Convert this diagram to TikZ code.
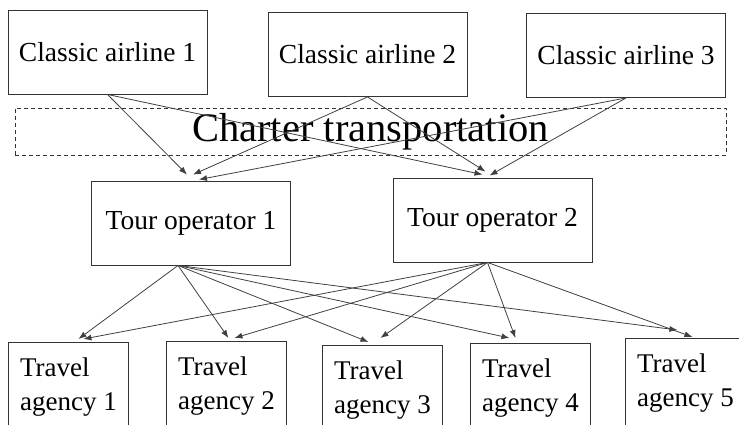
\documentclass[tikz,border=0pt]{standalone}
\usepackage{fontspec}
\setmainfont{Liberation Serif}
\usetikzlibrary{arrows.meta}

\begin{document}
\begin{tikzpicture}[x=1pt,y=-1pt,>={Latex[length=8pt,width=6pt]},%
		   firm/.style={draw=black!80,line width=0.9pt,minimum width=199pt,minimum height=84pt,inner sep=0pt,font=\fontsize{27.5}{34}\selectfont},
		   agency/.style={draw=black!80,line width=0.9pt,anchor=north west,align=left,minimum width=120pt,inner xsep=10pt,inner ysep=15pt,font=\fontsize{27}{34}\selectfont},
		   charter/.style={draw=black!80,line width=0.8pt,dash pattern=on 4pt off 3pt,minimum width=711pt,minimum height=47pt,inner sep=0pt,font=\fontsize{40.5}{44}\selectfont},
		   link/.style={->,black!75,line width=0.8pt}]

	\useasboundingbox (0,0) rectangle (739,424);

	% airlines, charter band, tour operators
	\foreach \i/\x/\y in {1/107.5/52,2/367.5/54.5,3/626/55.5}
	    \node[firm] (a\i) at (\x,\y) {Classic airline \i};
	\node[charter] (ct) at (370.5,131.5) {Charter transportation};
	\node[firm] (t1) at (191,223) {Tour operator 1};
	\node[firm] (t2) at (492.5,220) {Tour operator 2};

	% travel agencies (run off the bottom edge)
	\foreach \i/\x/\y in {1/8/342,2/166/341,3/322/345,4/470/343,5/625/338}
	    \node[agency] (g\i) at (\x,\y) {Travel\\agency \i};

	% airline -> tour operator
	\foreach \a/\p/\q/\r/\s in {1/-4/6/-10/3,2/2/6/-7/6,3/8/1/-3/2}{
	    \draw[link] (a\a.south) -- ([xshift=\p pt,yshift=\q pt]t1.north);
	    \draw[link] (a\a.south) -- ([xshift=\r pt,yshift=\s pt]t2.north);
	}

	% tour operator -> travel agency
	\foreach \g/\p/\q/\r/\s in {1/10/3/15/3,2/2/3/8/3,3/-14/3/-2/7,4/-21/5/-15/5,5/-8/8/7/1}{
	    \draw[link] ([xshift=-13pt]t1.south) -- ([xshift=\p pt,yshift=\q pt]g\g.north);
	    \draw[link] ([xshift=-5pt]t2.south) -- ([xshift=\r pt,yshift=\s pt]g\g.north);
	}
\end{tikzpicture}
\end{document}
